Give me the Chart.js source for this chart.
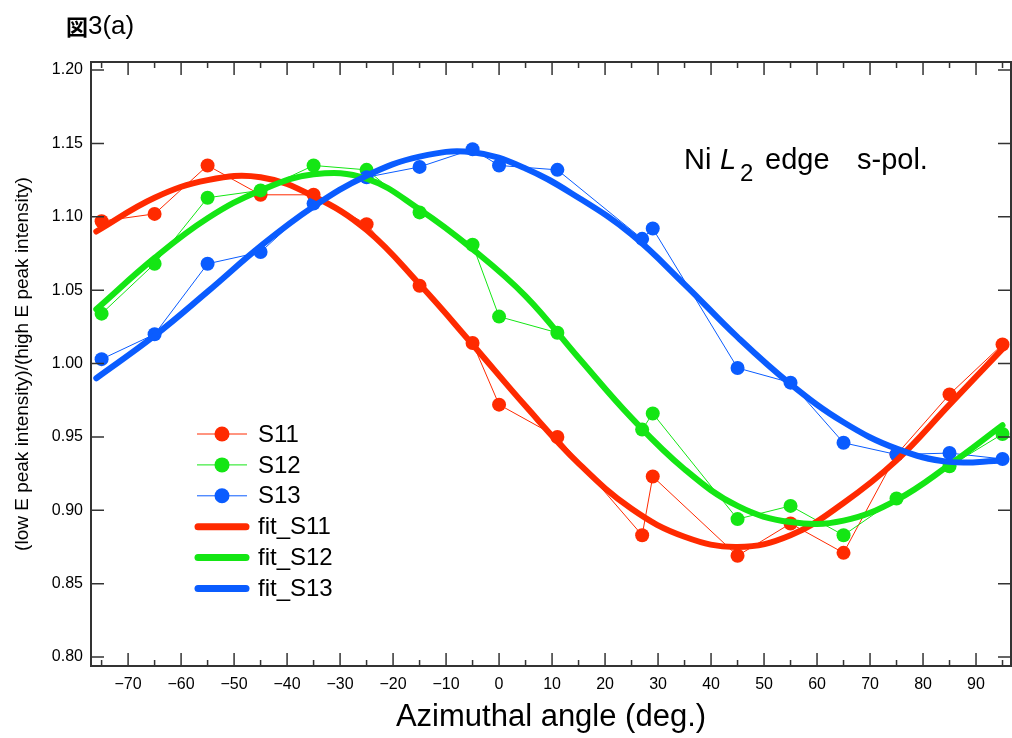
<!DOCTYPE html>
<html>
<head>
<meta charset="utf-8">
<script src="https://cdn.jsdelivr.net/npm/chart.js@4/dist/chart.umd.min.js"></script>
<style>
  body { margin: 0; background: #fff; }
  canvas { display: block; }
</style>
</head>
<body>
<canvas id="myChart" width="1012" height="738"></canvas>
<script>
// measured points
const angles = [-75, -65, -55, -45, -35, -25, -15, -5, 0, 11, 27, 29, 45, 55, 65, 75, 85, 95]
const S11 = [1.097, 1.102, 1.135, 1.115, 1.115, 1.095, 1.053, 1.014, 0.972, 0.950, 0.883, 0.923, 0.869, 0.891, 0.871, 0.938, 0.979, 1.013]
const S12 = [1.034, 1.068, 1.113, 1.118, 1.135, 1.132, 1.103, 1.081, 1.032, 1.021, 0.955, 0.966, 0.894, 0.903, 0.883, 0.908, 0.930, 0.952]
const S13 = [1.003, 1.020, 1.068, 1.076, 1.109, 1.127, 1.134, 1.146, 1.135, 1.132, 1.085, 1.092, 0.997, 0.987, 0.946, 0.938, 0.939, 0.935]

// fitted curves
const fitAngles = [-76, -65, -55, -45, -35, -25, -15, -5, 5, 15, 25, 35, 45, 55, 65, 75, 85, 95]
const fitS11 = [1.090, 1.113, 1.125, 1.127, 1.114, 1.091, 1.054, 1.013, 0.971, 0.932, 0.901, 0.882, 0.875, 0.883, 0.905, 0.934, 0.972, 1.010]
const fitS12 = [1.037, 1.072, 1.099, 1.118, 1.129, 1.126, 1.105, 1.078, 1.046, 1.004, 0.963, 0.928, 0.903, 0.892, 0.893, 0.907, 0.931, 0.958]
const fitS13 = [0.990, 1.019, 1.049, 1.080, 1.107, 1.128, 1.141, 1.144, 1.133, 1.113, 1.088, 1.054, 1.018, 0.986, 0.960, 0.942, 0.933, 0.934]

// axes
const xTicks = [-70, -60, -50, -40, -30, -20, -10, 0, 10, 20, 30, 40, 50, 60, 70, 80, 90]
const xMinorTicks = [-75, -65, -55, -45, -35, -25, -15, -5, 5, 15, 25, 35, 45, 55, 65, 75, 85, 95]
const yTicks = [0.80, 0.85, 0.90, 0.95, 1.00, 1.05, 1.10, 1.15, 1.20]

const red = '#ff2a00'
const green = '#14e614'
const blue = '#0a5cff'
const font = '"Liberation Sans", Arial, sans-serif'

const pts = (xs, ys) => xs.map((x, i) => ({x: x, y: ys[i]}))

const measured = (label, ys, color, order) => ({
    label: label,
    data: pts(angles, ys),
    borderColor: color,
    backgroundColor: color,
    borderWidth: 1,
    pointRadius: 7,
    pointBorderWidth: 0,
    tension: 0,
    order: order,
    kind: 'dot'
})
const fitted = (label, ys, color, order) => ({
    label: label,
    data: pts(fitAngles, ys),
    borderColor: color,
    borderWidth: 6,
    borderCapStyle: 'round',
    pointRadius: 0,
    tension: 0.4,
    order: order,
    kind: 'fit'
})

// frame with inward ticks on all four sides
const frameTicks = {
    id: 'frameTicks',
    afterDatasetsDraw(chart) {
        const {ctx, chartArea: a, scales: {x, y}} = chart
        ctx.save()
        ctx.strokeStyle = '#333'
        ctx.lineWidth = 1.5
        ctx.beginPath()
        xTicks.concat(xMinorTicks).forEach(v => {
            const px = x.getPixelForValue(v)
            const len = xTicks.includes(v) ? 13 : 6
            ctx.moveTo(px, a.bottom); ctx.lineTo(px, a.bottom - len)
            ctx.moveTo(px, a.top); ctx.lineTo(px, a.top + len)
        })
        yTicks.forEach(v => {
            const py = y.getPixelForValue(v)
            ctx.moveTo(a.left, py); ctx.lineTo(a.left + 13, py)
            ctx.moveTo(a.right, py); ctx.lineTo(a.right - 13, py)
        })
        ctx.stroke()
        ctx.lineWidth = 2
        ctx.strokeRect(a.left, a.top, a.right - a.left, a.bottom - a.top)
        ctx.restore()
    }
}

// legend, panel label and edge note
const notes = {
    id: 'notes',
    afterDraw(chart) {
        const ctx = chart.ctx
        ctx.save()
        ctx.fillStyle = '#000'
        ctx.textBaseline = 'alphabetic'

        ctx.font = 'bold 22px "Noto Sans CJK JP"'
        ctx.fillText('図', 66, 35)
        ctx.font = '26px ' + font
        ctx.fillText('3(a)', 88, 34)

        ctx.font = '29px ' + font
        ctx.fillText('Ni', 684, 169)
        ctx.font = 'italic 29px ' + font
        ctx.fillText('L', 720, 169)
        ctx.font = '24px ' + font
        ctx.fillText('2', 740, 181)
        ctx.font = '29px ' + font
        ctx.fillText('edge', 765, 169)
        ctx.fillText('s-pol.', 857, 169)

        ctx.font = '24px ' + font
        ctx.textBaseline = 'middle'
        chart.data.datasets.forEach((ds, i) => {
            const yy = 434 + i * 30.9
            ctx.strokeStyle = ds.borderColor
            ctx.beginPath()
            if (ds.kind === 'dot') {
                ctx.lineWidth = 1
                ctx.moveTo(197, yy); ctx.lineTo(247, yy)
                ctx.stroke()
                ctx.fillStyle = ds.borderColor
                ctx.beginPath()
                ctx.arc(222, yy, 7.5, 0, Math.PI * 2)
                ctx.fill()
            } else {
                ctx.lineWidth = 7
                ctx.lineCap = 'round'
                ctx.moveTo(198, yy); ctx.lineTo(246, yy)
                ctx.stroke()
            }
            ctx.fillStyle = '#000'
            ctx.fillText(ds.label, 258, yy + 1)
        })
        ctx.restore()
    }
}

new Chart('myChart', {
    type: 'line',
    data: {
        datasets: [
            measured('S11', S11, red, 5),
            measured('S12', S12, green, 4),
            measured('S13', S13, blue, 3),
            fitted('fit_S11', fitS11, red, 2),
            fitted('fit_S12', fitS12, green, 1),
            fitted('fit_S13', fitS13, blue, 0)
        ]
    },
    options: {
        responsive: false,
        animation: false,
        devicePixelRatio: 1,
        layout: {autoPadding: false, padding: {top: 62, right: 1, left: 0, bottom: 0}},
        plugins: {
            legend: {display: false},
            title: {display: false},
            tooltip: {enabled: false}
        },
        scales: {
            x: {
                type: 'linear',
                min: -77,
                max: 96.6,
                grid: {display: false, drawTicks: false},
                border: {display: false},
                afterBuildTicks: s => { s.ticks = xTicks.map(v => ({value: v})) },
                afterFit: s => {
                    s.height = 72
                    s.paddingLeft = 0
                    s.paddingRight = 0
                },
                ticks: {
                    autoSkip: false,
                    maxRotation: 0,
                    padding: 9,
                    color: '#000',
                    font: {family: font, size: 16},
                    callback: v => String(v).replace('-', '\u2212')
                },
                title: {
                    display: true,
                    text: 'Azimuthal angle (deg.)',
                    color: '#000',
                    font: {family: font, size: 31},
                    padding: {top: 0, bottom: 2}
                }
            },
            y: {
                type: 'linear',
                min: 0.7939,
                max: 1.2055,
                grid: {display: false, drawTicks: false},
                border: {display: false},
                afterBuildTicks: s => { s.ticks = yTicks.map(v => ({value: v})) },
                afterFit: s => {
                    s.width = 91
                    s.paddingTop = 0
                    s.paddingBottom = 0
                },
                ticks: {
                    autoSkip: false,
                    padding: 8,
                    color: '#000',
                    font: {family: font, size: 16},
                    callback: v => v.toFixed(2)
                },
                title: {
                    display: true,
                    text: '(low E peak intensity)/(high E peak intensity)',
                    color: '#000',
                    font: {family: font, size: 19},
                    padding: {top: 11, bottom: 0}
                }
            }
        }
    },
    plugins: [frameTicks, notes]
});
</script>
</body>
</html>
